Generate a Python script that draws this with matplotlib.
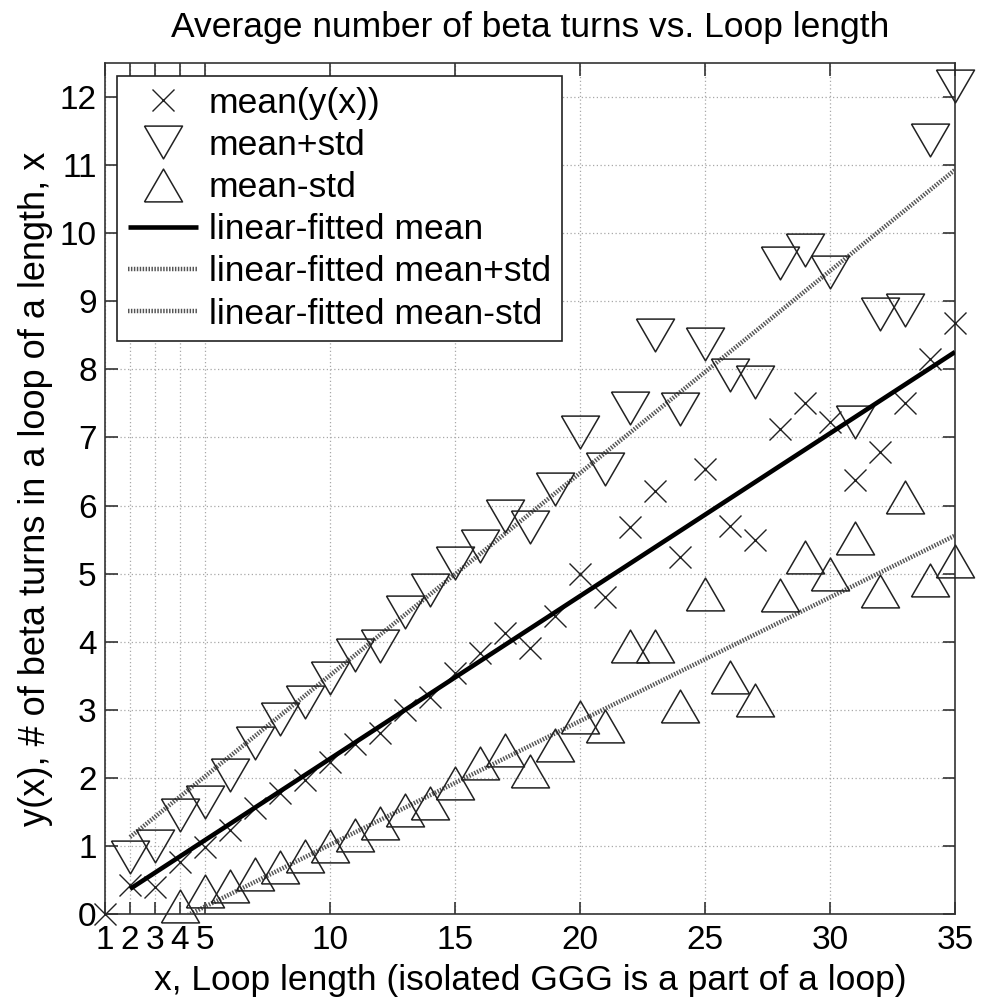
import numpy as np
import matplotlib
matplotlib.use("Agg")
from matplotlib import pyplot as plt

# loop length (isolated GGG is a part of a loop)
loop_len = np.arange(1, 36)

# mean number of beta turns per loop length
mean_y = [0.00, 0.43, 0.40, 0.76, 0.98, 1.24, 1.55, 1.78, 1.97, 2.23,
          2.50, 2.66, 3.00, 3.19, 3.54, 3.83, 4.13, 3.90, 4.37, 4.99,
          4.66, 5.69, 6.22, 5.25, 6.54, 5.70, 5.50, 7.12, 7.50, 7.22,
          6.38, 6.78, 7.50, 8.15, 8.68]

# mean + std
mean_plus = [np.nan, 0.84, 1.00, 1.46, 1.64, 2.04, 2.51, 2.87, 3.11, 3.46,
             3.81, 3.94, 4.44, 4.76, 5.16, 5.41, 5.85, 5.68, 6.25, 7.08,
             6.54, 7.43, 8.50, 7.42, 8.37, 7.91, 7.82, 9.56, 9.76, 9.43,
             7.22, 8.81, 8.87, 11.37, 12.16]

# mean - std (negative ones fall below the axis)
mean_minus = [np.nan, -0.03, -0.20, 0.12, 0.34, 0.41, 0.59, 0.69, 0.85, 1.00,
              1.16, 1.33, 1.53, 1.63, 1.92, 2.22, 2.41, 2.10, 2.48, 2.90,
              2.76, 3.94, 3.94, 3.06, 4.70, 3.48, 3.15, 4.68, 5.24, 5.00,
              5.53, 4.75, 6.13, 4.90, 5.19]

# linear fits (slope, intercept) over x = 2..35
fit_range = [2, 35]
fit_mean = [0.239, -0.110]
fit_plus = [0.297, 0.536]
fit_minus = [0.1817, -0.800]

x_ticks = [1, 2, 3, 4, 5, 10, 15, 20, 25, 30, 35]
y_ticks = list(range(0, 13))

FONT = "Liberation Sans"
FS = 25.5
TICK_FS = 24
plt.rcParams["font.family"] = [FONT, "DejaVu Sans"]
plt.rcParams["font.size"] = FS

# matlab-like wide triangles
tri_down = [(-0.58, 0.5), (0.58, 0.5), (0.0, -0.5), (-0.58, 0.5)]
tri_up = [(-0.58, -0.5), (0.58, -0.5), (0.0, 0.5), (-0.58, -0.5)]

fig = plt.figure(figsize=(9.84, 9.99), dpi=100)
ax = fig.add_axes([105 / 984, 1 - 914 / 999, 850 / 984, 851 / 999])

x = np.array(loop_len)
ym = np.ma.masked_less(np.array(mean_y), 0)
yp = np.ma.masked_less(np.array(mean_plus), 0)
yn = np.ma.masked_less(np.array(mean_minus), 0)

ax.plot(x, ym, linestyle="none", marker="x", markersize=16.5, markeredgewidth=1.0,
        color="#222222", clip_on=False, label="mean(y(x))", zorder=4)
ax.plot(x, yp, linestyle="none", marker=tri_down, markersize=27.4, markeredgewidth=1.1,
        markerfacecolor="none", markeredgecolor="#222222", clip_on=False,
        label="mean+std", zorder=4)
ax.plot(x, yn, linestyle="none", marker=tri_up, markersize=27.4, markeredgewidth=1.1,
        markerfacecolor="none", markeredgecolor="#222222", clip_on=False,
        label="mean-std", zorder=4)

xf = np.array(fit_range, dtype=float)
ax.plot(xf, fit_mean[0] * xf + fit_mean[1], color="black", linewidth=3.3,
        solid_capstyle="butt", label="linear-fitted mean", zorder=5)
ax.plot(xf, fit_plus[0] * xf + fit_plus[1], color="#555555", linewidth=3.2,
        linestyle=(0, (0.33, 0.33)), dash_capstyle="butt",
        label="linear-fitted mean+std", zorder=3)
ax.plot(xf, fit_minus[0] * xf + fit_minus[1], color="#555555", linewidth=3.2,
        linestyle=(0, (0.33, 0.33)), dash_capstyle="butt",
        label="linear-fitted mean-std", zorder=3)

ax.set_xlim(1, 35)
ax.set_ylim(0, 12.5)
ax.set_xticks(x_ticks)
ax.set_yticks(y_ticks)
ax.tick_params(direction="in", top=True, right=True, length=9, width=1.2,
               color="#333333", labelsize=TICK_FS)
ax.tick_params(axis="x", pad=8)
ax.tick_params(axis="y", pad=6)
ax.grid(True, linestyle=(0, (1, 2)), color="#a8a8a8", linewidth=0.9)
ax.set_axisbelow(True)
for sp in ax.spines.values():
    sp.set_color("#333333")
    sp.set_linewidth(1.2)

ax.set_title("Average number of beta turns vs. Loop length", fontsize=FS, pad=19)
ax.set_xlabel("x, Loop length (isolated GGG is a part of a loop)", fontsize=FS, labelpad=6)
ax.set_ylabel("y(x), # of beta turns in a loop of a length, x", fontsize=26, labelpad=5)

leg = ax.legend(loc="upper left", bbox_to_anchor=(12 / 850, 1 - 13 / 851),
                fontsize=FS, frameon=True, fancybox=False, framealpha=1,
                edgecolor="#222222", handlelength=2.0, handletextpad=0.3,
                labelspacing=0.26, borderpad=0.3, borderaxespad=0)
leg.get_frame().set_linewidth(1.2)

fig.savefig("out.png", dpi=100)
